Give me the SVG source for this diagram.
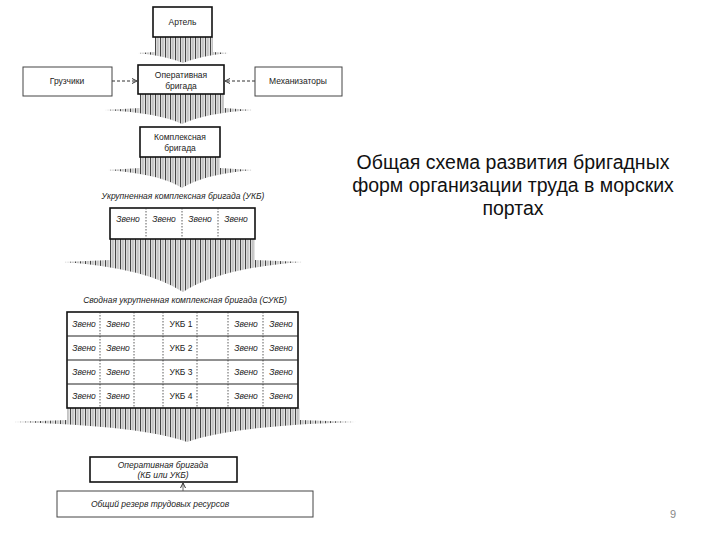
<svg xmlns="http://www.w3.org/2000/svg" width="720" height="540" viewBox="0 0 720 540">
<style>
text{font-family:"Liberation Sans",Arial,sans-serif;fill:#222}
.t{font-size:8.5px;text-anchor:middle}
.i{font-style:italic}
.title{font-size:19.5px;text-anchor:middle;fill:#111}
.box{fill:#fff;stroke:#111;stroke-width:1.6}
.thin{fill:#fff;stroke:#444;stroke-width:1}
.dot{stroke:#333;stroke-width:0.8;stroke-dasharray:1.5 1.5}
.row{stroke:#222;stroke-width:1}
.hatch{fill:url(#vh);stroke:none}
.dash{stroke:#333;stroke-width:1;stroke-dasharray:3 2;fill:none}
</style>
<defs>
<pattern id="vh" patternUnits="userSpaceOnUse" width="5" height="4">
<rect width="5" height="4" fill="#fff"/>
<rect x="0" width="1.2" height="4" fill="#444"/>
<rect x="2.5" width="0.9" height="4" fill="#888"/>
<rect x="3.8" width="0.6" height="4" fill="#bbb"/>
</pattern>
<marker id="ah" markerWidth="6" markerHeight="6" refX="5" refY="3" orient="auto" markerUnits="userSpaceOnUse">
<path d="M0,0.5 L5,3 L0,5.5" fill="none" stroke="#333" stroke-width="1"/>
</marker>
</defs>
<rect width="720" height="540" fill="#fff"/>

<g id="connectors">
<path class="hatch" d="M155,37 H213 V52 L228,53 Q200,56 183,63 Q166,56 138,53 L155,52 Z"/>
<path class="hatch" d="M140,94 H224 V108 L252,110 Q205,113 182,124 Q160,113 105,110 L140,108 Z"/>
<path class="hatch" d="M140,157 H220 V168 L252,170 Q205,174 182,188 Q160,174 108,170 L140,168 Z"/>
<path class="hatch" d="M110,239 H255 V260 L302,262 Q220,268 183,292 Q146,268 64,262 L110,260 Z"/>
<path class="hatch" d="M67,408 H300 V420 L356,422 Q230,426 187,442 Q144,426 14,422 L67,420 Z"/>
<line class="dash" x1="112" y1="81" x2="137" y2="81" marker-end="url(#ah)"/>
<line class="dash" x1="255" y1="81" x2="225" y2="81" marker-end="url(#ah)"/>
<line x1="183" y1="491" x2="183" y2="483" stroke="#444" stroke-width="0.8" marker-end="url(#ah)"/>
</g>

<g id="artel"><rect class="box" x="153" y="7" width="59" height="30"/><text class="t" x="182.5" y="25">Артель</text></g>
<g id="gruzchiki"><rect class="thin" x="23" y="67" width="89" height="29"/><text class="t" x="67" y="84">Грузчики</text></g>
<g id="mekhanizatory"><rect class="thin" x="255" y="67" width="87" height="29"/><text class="t" x="298" y="84">Механизаторы</text></g>
<g id="operativnaya"><rect class="box" x="138" y="65" width="86" height="29" stroke-width="2.2"/><text class="t" x="181" y="78">Оперативная</text><text class="t" x="181" y="89">бригада</text></g>
<g id="kompleksnaya"><rect class="box" x="140" y="127" width="80" height="30"/><text class="t" x="180" y="140">Комплексная</text><text class="t" x="180" y="151">бригада</text></g>

<g id="ukb">
<text class="t i" x="183" y="199">Укрупненная комплексная бригада (УКБ)</text>
<rect class="box" x="110" y="208" width="145" height="31"/>
<line class="dot" x1="146" y1="208" x2="146" y2="239"/>
<line class="dot" x1="182" y1="208" x2="182" y2="239"/>
<line class="dot" x1="218" y1="208" x2="218" y2="239"/>
<text class="t i" x="128" y="222">Звено</text>
<text class="t i" x="164" y="222">Звено</text>
<text class="t i" x="200" y="222">Звено</text>
<text class="t i" x="236" y="222">Звено</text>
</g>

<g id="sukb">
<text class="t i" x="185" y="303">Сводная укрупненная комплексная бригада (СУКБ)</text>
<rect class="box" x="67" y="312" width="231" height="96"/>
<line class="row" x1="67" y1="336" x2="298" y2="336"/>
<line class="row" x1="67" y1="360" x2="298" y2="360"/>
<line class="row" x1="67" y1="384" x2="298" y2="384"/>
<line class="dot" x1="100" y1="312" x2="100" y2="408"/>
<line class="dot" x1="134" y1="312" x2="134" y2="408"/>
<line class="dot" x1="163" y1="312" x2="163" y2="408"/>
<line class="dot" x1="197" y1="312" x2="197" y2="408"/>
<line class="dot" x1="228" y1="312" x2="228" y2="408"/>
<line class="dot" x1="263" y1="312" x2="263" y2="408"/>
<text class="t i" x="84" y="327">Звено</text><text class="t i" x="118" y="327">Звено</text><text class="t" x="181" y="327">УКБ 1</text><text class="t i" x="246" y="327">Звено</text><text class="t i" x="281" y="327">Звено</text>
<text class="t i" x="84" y="351">Звено</text><text class="t i" x="118" y="351">Звено</text><text class="t" x="181" y="351">УКБ 2</text><text class="t i" x="246" y="351">Звено</text><text class="t i" x="281" y="351">Звено</text>
<text class="t i" x="84" y="375">Звено</text><text class="t i" x="118" y="375">Звено</text><text class="t" x="181" y="375">УКБ 3</text><text class="t i" x="246" y="375">Звено</text><text class="t i" x="281" y="375">Звено</text>
<text class="t i" x="84" y="399">Звено</text><text class="t i" x="118" y="399">Звено</text><text class="t" x="181" y="399">УКБ 4</text><text class="t i" x="246" y="399">Звено</text><text class="t i" x="281" y="399">Звено</text>
</g>

<g id="operativnaya2"><rect class="box" x="90" y="457" width="147" height="25" stroke-width="2"/><text class="t i" x="163" y="468">Оперативная бригада</text><text class="t i" x="163" y="478">(КБ или УКБ)</text></g>
<g id="reserv"><rect class="thin" x="57" y="491" width="256" height="26" stroke="#888"/><text class="t i" x="160" y="507">Общий резерв трудовых ресурсов</text></g>

<g id="title">
<text class="title" x="513" y="169">Общая схема развития бригадных</text>
<text class="title" x="513" y="192">форм организации труда в морских</text>
<text class="title" x="513" y="215">портах</text>
</g>
<text x="673" y="518" font-size="11" style="fill:#888;text-anchor:middle">9</text>
</svg>
